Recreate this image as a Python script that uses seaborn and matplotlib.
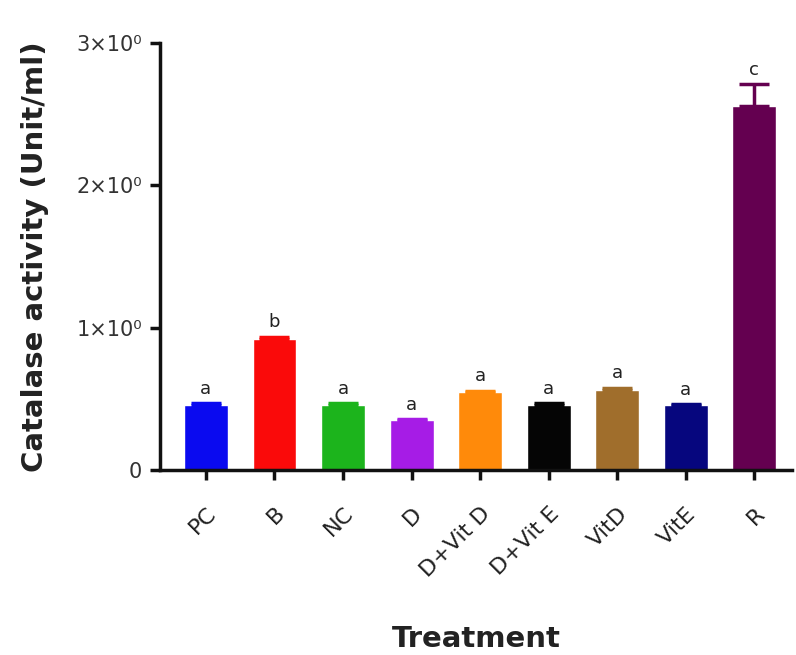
import matplotlib
matplotlib.use("Agg")
import matplotlib.pyplot as plt
import seaborn as sns

treatments = ["PC", "B", "NC", "D", "D+Vit D", "D+Vit E", "VitD", "VitE", "R"]
means = [0.46, 0.92, 0.46, 0.35, 0.545, 0.46, 0.565, 0.455, 2.56]
errors = [0.008, 0.015, 0.008, 0.008, 0.012, 0.008, 0.012, 0.008, 0.15]
letters = ["a", "b", "a", "a", "a", "a", "a", "a", "c"]
colors = ["#0A0AF0", "#FA0A0A", "#1CB41C", "#A61CE6", "#FF8A0A",
          "#050505", "#A06E2C", "#06067E", "#640050"]

y_ticks = [0, 1, 2, 3]
y_tick_labels = ["0", "1×10⁰", "2×10⁰", "3×10⁰"]

sns.set_style("ticks")
plt.rcParams["font.family"] = ["DejaVu Sans"]

fig = plt.figure(figsize=(7.96, 6.55), dpi=100)
ax = fig.add_axes([0.201, 0.2824, 0.794, 0.6519])

sns.barplot(x=treatments, y=means, hue=treatments, palette=colors,
            legend=False, width=0.64, saturation=1, ax=ax)

for i, (m, e, c) in enumerate(zip(means, errors, colors)):
    ax.errorbar([i], [m], yerr=[[0], [e]], fmt="none", ecolor=c,
                elinewidth=2.5, capsize=11, capthick=2.5)

for i, (m, e, lab) in enumerate(zip(means, errors, letters)):
    ax.annotate(lab, (i, m + e), xytext=(0, 4), textcoords="offset points",
                ha="center", va="bottom", fontsize=13, color="#222222")

ax.set_ylim(0, 3)
ax.set_xlim(-0.67, 8.55)
ax.set_yticks(y_ticks)
ax.set_yticklabels(y_tick_labels, fontsize=15, color="#333333")
ax.set_xticks(range(len(treatments)))
ax.set_xticklabels(treatments, rotation=45, ha="right", rotation_mode="anchor",
                   fontsize=16, color="#222222")

sns.despine(ax=ax)
for s in ["left", "bottom"]:
    ax.spines[s].set_linewidth(2.5)
    ax.spines[s].set_color("#111111")
ax.tick_params(axis="both", width=2.5, length=7, color="#111111")
ax.tick_params(axis="x", pad=17)
ax.tick_params(axis="y", pad=6)

ax.set_ylabel("Catalase activity (Unit/ml)", fontsize=21, fontweight="bold",
              color="#222222", labelpad=20)
ax.set_xlabel("Treatment", fontsize=21, fontweight="bold", color="#222222",
              labelpad=32)

fig.savefig("out.png", dpi=100)
